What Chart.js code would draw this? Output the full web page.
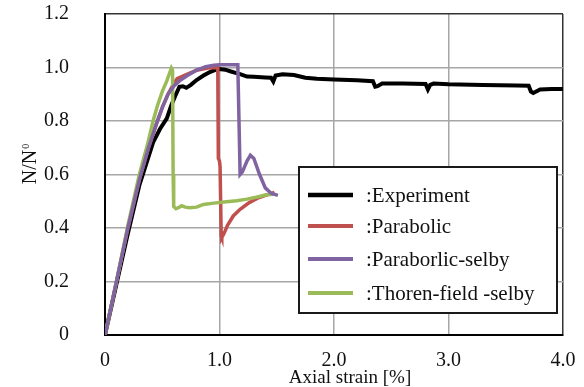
<!DOCTYPE html>
<html>
<head>
<meta charset="utf-8">
<script src="https://cdn.jsdelivr.net/npm/chart.js@4.4.1/dist/chart.umd.min.js"></script>
<style>
  body { margin: 0; background: #fff; }
  #wrap { width: 584px; height: 387px; }
</style>
</head>
<body>
<div id="wrap"><canvas id="myChart" width="584" height="387"></canvas></div>
<script>
// axial strain [%] / N/N0
const expX = [0, 0.1, 0.2, 0.3, 0.36, 0.42, 0.48, 0.54, 0.58, 0.62, 0.65, 0.68, 0.71, 0.75, 0.8, 0.86, 0.92, 0.97, 1.0, 1.05, 1.1, 1.14, 1.18, 1.24, 1.3, 1.4, 1.45, 1.47, 1.49, 1.55, 1.65, 1.75, 1.85, 2.0, 2.2, 2.34, 2.36, 2.38, 2.42, 2.6, 2.8, 2.82, 2.84, 2.87, 3.0, 3.3, 3.6, 3.7, 3.72, 3.74, 3.8, 3.9, 4.0];
const expY = [0, 0.19, 0.38, 0.56, 0.64, 0.72, 0.77, 0.81, 0.86, 0.9, 0.928, 0.93, 0.924, 0.935, 0.953, 0.97, 0.984, 0.992, 0.994, 0.992, 0.985, 0.98, 0.975, 0.966, 0.965, 0.963, 0.962, 0.948, 0.97, 0.975, 0.972, 0.962, 0.958, 0.955, 0.952, 0.949, 0.928, 0.93, 0.94, 0.94, 0.938, 0.918, 0.935, 0.94, 0.937, 0.935, 0.933, 0.932, 0.91, 0.905, 0.918, 0.92, 0.92];

const parX = [0, 0.1, 0.2, 0.3, 0.38, 0.45, 0.5, 0.55, 0.6, 0.63, 0.7, 0.8, 0.9, 0.985, 0.99, 1.0, 1.005, 1.015, 1.02, 1.04, 1.07, 1.12, 1.18, 1.26, 1.34, 1.42, 1.48];
const parY = [0, 0.2, 0.4, 0.58, 0.7, 0.79, 0.85, 0.9, 0.94, 0.958, 0.972, 0.99, 0.998, 1.0, 0.66, 0.65, 0.63, 0.37, 0.364, 0.38, 0.41, 0.445, 0.47, 0.495, 0.513, 0.525, 0.533];

const selX = [0, 0.1, 0.2, 0.3, 0.38, 0.45, 0.5, 0.55, 0.6, 0.65, 0.72, 0.8, 0.88, 0.95, 1.0, 1.16, 1.18, 1.2, 1.24, 1.27, 1.3, 1.35, 1.4, 1.45, 1.51];
const selY = [0, 0.2, 0.4, 0.58, 0.7, 0.79, 0.85, 0.9, 0.93, 0.95, 0.97, 0.99, 1.003, 1.008, 1.01, 1.01, 0.6, 0.61, 0.65, 0.672, 0.66, 0.6, 0.55, 0.53, 0.522];

const thoX = [0, 0.1, 0.2, 0.3, 0.37, 0.42, 0.46, 0.5, 0.54, 0.58, 0.59, 0.595, 0.6, 0.62, 0.65, 0.67, 0.7, 0.74, 0.8, 0.86, 0.95, 1.06, 1.15, 1.24, 1.32, 1.4, 1.48];
const thoY = [0, 0.2, 0.41, 0.6, 0.71, 0.8, 0.86, 0.91, 0.95, 0.998, 0.99, 0.6, 0.48, 0.472, 0.478, 0.483, 0.478, 0.476, 0.478, 0.488, 0.493, 0.498, 0.502, 0.508, 0.515, 0.523, 0.527];

const seriesLabels = [':Experiment', ':Parabolic', ':Paraborlic-selby', ':Thoren-field -selby'];
const seriesColors = ['#000000', '#C0504D', '#8064A2', '#9BBB59'];

const xTicks = [0, 1, 2, 3, 4];
const yTicks = [0, 0.2, 0.4, 0.6, 0.8, 1.0, 1.2];

const SERIF = "'Liberation Serif', serif";

const toPoints = (xs, ys) => xs.map((x, i) => ({ x: x, y: ys[i] }));

const fmt = (v) => (Math.abs(v) < 1e-9 ? '0' : v.toFixed(1));

// legend box + axis titles
const decor = {
  id: 'decor',
  afterDraw(chart) {
    const ctx = chart.ctx;
    ctx.save();

    // legend
    ctx.fillStyle = '#ffffff';
    ctx.fillRect(299, 167, 258, 146);
    ctx.strokeStyle = '#1a1a1a';
    ctx.lineWidth = 2;
    ctx.strokeRect(299, 167, 258, 146);
    const rowY = [195, 226, 259, 293];
    ctx.font = '21px ' + SERIF;
    ctx.textBaseline = 'middle';
    ctx.textAlign = 'left';
    chart.data.datasets.forEach((ds, i) => {
      ctx.strokeStyle = ds.borderColor;
      ctx.lineWidth = i === 0 ? 4.5 : 4;
      ctx.beginPath();
      ctx.moveTo(308, rowY[i]);
      ctx.lineTo(353, rowY[i]);
      ctx.stroke();
      ctx.fillStyle = '#111';
      ctx.fillText(ds.label, 366, rowY[i] + 1);
    });

    // x title
    ctx.fillStyle = '#111';
    ctx.font = '19px ' + SERIF;
    ctx.textAlign = 'center';
    ctx.textBaseline = 'alphabetic';
    ctx.fillText('Axial strain [%]', 350, 383);

    // y title N/N0
    ctx.translate(36, 164);
    ctx.rotate(-Math.PI / 2);
    ctx.font = '20px ' + SERIF;
    const main = 'N/N';
    const wMain = ctx.measureText(main).width;
    ctx.font = '10px ' + SERIF;
    const wSub = ctx.measureText('0').width;
    const start = -(wMain + wSub + 1) / 2;
    ctx.textAlign = 'left';
    ctx.font = '20px ' + SERIF;
    ctx.fillText(main, start, 0);
    ctx.font = '10px ' + SERIF;
    ctx.fillText('0', start + wMain + 1, -7);

    ctx.restore();
  }
};

let myChart;

const setup = () => {
  Chart.defaults.font.family = SERIF;
  Chart.defaults.font.size = 20;
  Chart.defaults.color = '#111';

  const ctxt = document.getElementById('myChart').getContext('2d');
  const pts = [toPoints(expX, expY), toPoints(parX, parY), toPoints(selX, selY), toPoints(thoX, thoY)];
  const drawOrder = [4, 3, 1, 2];

  myChart = new Chart(ctxt, {
    type: 'scatter',
    data: {
      datasets: pts.map((p, i) => ({
        label: seriesLabels[i],
        data: p,
        showLine: true,
        borderColor: seriesColors[i],
        backgroundColor: seriesColors[i],
        borderWidth: i === 0 ? 4 : 3.5,
        pointRadius: 0,
        tension: 0,
        order: drawOrder[i]
      }))
    },
    options: {
      responsive: false,
      animation: false,
      layout: { padding: { left: 0, right: 21, top: 14, bottom: 0 } },
      plugins: {
        legend: { display: false },
        tooltip: { enabled: false }
      },
      scales: {
        x: {
          type: 'linear',
          min: 0,
          max: 4,
          afterFit: (s) => { s.height = 52; s.paddingLeft = 0; s.paddingRight = 0; },
          afterBuildTicks: (s) => { s.ticks = xTicks.map(v => ({ value: v })); },
          ticks: {
            padding: 14,
            color: '#111',
            font: { family: SERIF, size: 20 },
            callback: (v) => fmt(v)
          },
          grid: {
            drawTicks: false,
            color: (c) => (c.tick && c.tick.value >= 3.99 ? '#333' : '#A6A6A6'),
            lineWidth: 1.5
          },
          border: { color: '#000', width: 2 }
        },
        y: {
          min: 0,
          max: 1.2,
          afterFit: (s) => { s.width = 105; s.paddingTop = 0; s.paddingBottom = 0; },
          afterBuildTicks: (s) => { s.ticks = yTicks.map(v => ({ value: v })); },
          ticks: {
            padding: 36,
            color: '#111',
            font: { family: SERIF, size: 20 },
            callback: (v) => fmt(v)
          },
          grid: {
            drawTicks: false,
            color: (c) => (c.tick && c.tick.value >= 1.19 ? '#333' : '#A6A6A6'),
            lineWidth: 1.5
          },
          border: { color: '#000', width: 2 }
        }
      }
    },
    plugins: [decor]
  });
};

window.addEventListener('DOMContentLoaded', setup);
</script>
</body>
</html>
